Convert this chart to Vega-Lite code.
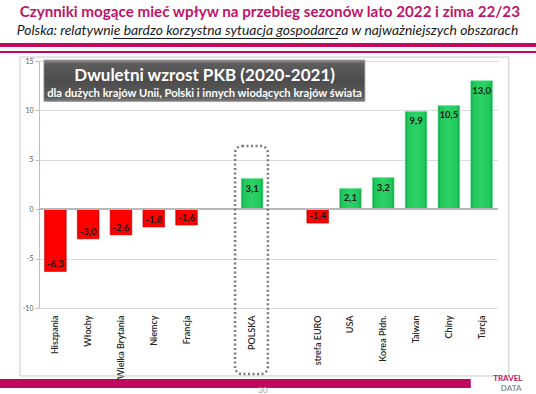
{
  "$schema": "https://vega.github.io/schema/vega-lite/v6.json",
  "width": 459,
  "height": 247,
  "autosize": {"type": "none"},
  "padding": {"left": 39, "top": 61, "right": 38, "bottom": 86},
  "background": "white",
  "config": {
    "view": {"stroke": null},
    "font": "Lato",
    "locale": {"number": {"decimal": ",", "thousands": " ", "grouping": [3], "currency": ["", " zł"], "minus": "-"}}
  },
  "data": {"values": [
    {"country": "Hiszpania", "v": -6.3},
    {"country": "Włochy", "v": -3.0},
    {"country": "Wielka Brytania", "v": -2.6},
    {"country": "Niemcy", "v": -1.8},
    {"country": "Francja", "v": -1.6},
    {"country": "POLSKA", "v": 3.1},
    {"country": "strefa EURO", "v": -1.4},
    {"country": "USA", "v": 2.1},
    {"country": "Korea Płdn.", "v": 3.2},
    {"country": "Taiwan", "v": 9.9},
    {"country": "Chiny", "v": 10.5},
    {"country": "Turcja", "v": 13.0}
  ]},
  "resolve": {"scale": {"x": "independent"}, "axis": {"x": "independent"}},
  "layer": [
    {
      "encoding": {
        "x": {
          "field": "country", "type": "nominal", "sort": null,
          "scale": {"domain": ["Hiszpania", "Włochy", "Wielka Brytania", "Niemcy", "Francja", " ", "POLSKA", "  ", "strefa EURO", "USA", "Korea Płdn.", "Taiwan", "Chiny", "Turcja"], "paddingInner": 0.34, "paddingOuter": 0.17},
          "axis": {"title": null, "labelAngle": -90, "labelFontSize": 9, "labelColor": "#262626", "labelFont": "Lato", "labelFontWeight": 600, "labelPadding": 7, "domain": false, "ticks": false, "grid": false}
        },
        "y": {
          "field": "v", "type": "quantitative",
          "scale": {"domain": [-10, 15], "nice": false, "zero": false},
          "axis": {"title": null, "values": [-10, -5, 0, 5, 10, 15], "labelFontSize": 7, "labelColor": "#595959", "tickSize": 4, "tickColor": "#bfbfbf", "domainColor": "#bfbfbf", "gridColor": "#dcdcdc", "labelPadding": 2}
        }
      },
      "layer": [
        {
          "mark": {"type": "bar", "strokeWidth": 0.6},
          "encoding": {
            "fill": {
              "condition": {"test": "datum.v < 0", "value": {"gradient": "linear", "x1": 0, "y1": 0, "x2": 1, "y2": 0, "stops": [{"offset": 0, "color": "#e00000"}, {"offset": 0.12, "color": "#ff0000"}, {"offset": 0.88, "color": "#ff0000"}, {"offset": 1, "color": "#e00000"}]}},
              "value": {"gradient": "linear", "x1": 0, "y1": 0, "x2": 1, "y2": 0, "stops": [{"offset": 0, "color": "#0d9e45"}, {"offset": 0.12, "color": "#20c85b"}, {"offset": 0.5, "color": "#2dd266"}, {"offset": 0.88, "color": "#20c85b"}, {"offset": 1, "color": "#0d9e45"}]}
            },
            "stroke": {"condition": {"test": "datum.v < 0", "value": "#c80000"}, "value": "#5ee690"}
          }
        },
        {
          "mark": {"type": "rule", "color": "#b8b8b8", "strokeWidth": 1},
          "encoding": {"y": {"datum": 0}, "x": null}
        },
        {
          "transform": [{"filter": "datum.v >= 0"}],
          "mark": {"type": "text", "baseline": "top", "dy": 5, "fontSize": 9.5, "fontWeight": "bold", "color": "#1a1a1a"},
          "encoding": {"text": {"field": "v", "type": "quantitative", "format": ".1f"}}
        },
        {
          "transform": [{"filter": "datum.v < 0"}],
          "mark": {"type": "text", "baseline": "bottom", "dy": -2, "fontSize": 9.5, "fontWeight": "bold", "color": "#1a1a1a"},
          "encoding": {"text": {"field": "v", "type": "quantitative", "format": ".1f"}}
        }
      ]
    },
    {
      "data": {"values": [{}]},
      "layer": [
        {
          "mark": {"type": "rect", "fill": null, "stroke": "#c8c8c8", "strokeWidth": 1, "clip": false},
          "encoding": {
            "x": {"datum": -1.08, "type": "quantitative", "scale": {"domain": [-0.5, 13.5], "nice": false, "zero": false}, "axis": null},
            "x2": {"datum": 13.83},
            "y": {"datum": 15.4, "type": "quantitative", "scale": {"domain": [-10, 15], "nice": false, "zero": false}},
            "y2": {"datum": -16.88}
          }
        },
        {
          "mark": {"type": "rect", "fill": "#c0085e", "clip": false},
          "encoding": {
            "x": {"datum": -1.7, "type": "quantitative", "scale": {"domain": [-0.5, 13.5], "nice": false, "zero": false}, "axis": null},
            "x2": {"datum": 14.7},
            "y": {"datum": 16.82, "type": "quantitative", "scale": {"domain": [-10, 15], "nice": false, "zero": false}},
            "y2": {"datum": 16.42}
          }
        },
        {
          "mark": {"type": "rect", "fill": "#c0085e", "clip": false},
          "encoding": {
            "x": {"datum": -1.7, "type": "quantitative", "scale": {"domain": [-0.5, 13.5], "nice": false, "zero": false}, "axis": null},
            "x2": {"datum": 14.7},
            "y": {"datum": 16.01, "type": "quantitative", "scale": {"domain": [-10, 15], "nice": false, "zero": false}},
            "y2": {"datum": 15.81}
          }
        },
        {
          "mark": {"type": "rect", "fill": "#c0085e", "clip": false},
          "encoding": {
            "x": {"datum": -1.7, "type": "quantitative", "scale": {"domain": [-0.5, 13.5], "nice": false, "zero": false}, "axis": null},
            "x2": {"datum": 12.67},
            "y": {"datum": -17.19, "type": "quantitative", "scale": {"domain": [-10, 15], "nice": false, "zero": false}},
            "y2": {"datum": -18.1}
          }
        },
        {
          "mark": {"type": "rect", "clip": false, "stroke": "#9a9a9a", "strokeWidth": 0.8},
          "encoding": {
            "fill": {"value": {"gradient": "linear", "x1": 0, "y1": 0, "x2": 0, "y2": 1, "stops": [{"offset": 0, "color": "#8c8c8c"}, {"offset": 0.1, "color": "#5c5c5c"}, {"offset": 0.5, "color": "#4c4c4c"}, {"offset": 0.9, "color": "#5c5c5c"}, {"offset": 1, "color": "#808080"}]}},
            "x": {"datum": -0.35, "type": "quantitative", "scale": {"domain": [-0.5, 13.5], "nice": false, "zero": false}, "axis": null},
            "x2": {"datum": 9.44},
            "y": {"datum": 15.1, "type": "quantitative", "scale": {"domain": [-10, 15], "nice": false, "zero": false}},
            "y2": {"datum": 10.9}
          }
        },
        {
          "mark": {"type": "text", "clip": false, "fontSize": 17, "fontWeight": "bold", "color": "white", "baseline": "middle", "align": "center"},
          "encoding": {
            "text": {"value": "Dwuletni wzrost PKB (2020-2021)"},
            "x": {"datum": 4.55, "type": "quantitative", "scale": {"domain": [-0.5, 13.5], "nice": false, "zero": false}, "axis": null},
            "y": {"datum": 13.5, "type": "quantitative", "scale": {"domain": [-10, 15], "nice": false, "zero": false}}
          }
        },
        {
          "mark": {"type": "text", "clip": false, "fontSize": 11.2, "fontWeight": "bold", "color": "white", "baseline": "middle", "align": "center"},
          "encoding": {
            "text": {"value": "dla dużych krajów Unii, Polski i innych wiodących krajów świata"},
            "x": {"datum": 4.55, "type": "quantitative", "scale": {"domain": [-0.5, 13.5], "nice": false, "zero": false}, "axis": null},
            "y": {"datum": 11.63, "type": "quantitative", "scale": {"domain": [-10, 15], "nice": false, "zero": false}}
          }
        },
        {
          "mark": {"type": "rect", "clip": false, "fill": null, "stroke": "#7a7a7a", "strokeWidth": 2.5, "strokeDash": [2, 2.5], "cornerRadius": 7},
          "encoding": {
            "x": {"datum": 5.48, "type": "quantitative", "scale": {"domain": [-0.5, 13.5], "nice": false, "zero": false}, "axis": null},
            "x2": {"datum": 6.48},
            "y": {"datum": 6.4, "type": "quantitative", "scale": {"domain": [-10, 15], "nice": false, "zero": false}},
            "y2": {"datum": -16.68}
          }
        },
        {
          "mark": {"type": "text", "clip": false, "fontSize": 15.2, "fontWeight": "bold", "color": "#bb1569", "baseline": "middle", "align": "center"},
          "encoding": {
            "text": {"value": "Czynniki mogące mieć wpływ na przebieg sezonów lato 2022 i zima 22/23"},
            "x": {"datum": 6.54, "type": "quantitative", "scale": {"domain": [-0.5, 13.5], "nice": false, "zero": false}, "axis": null},
            "y": {"datum": 19.96, "type": "quantitative", "scale": {"domain": [-10, 15], "nice": false, "zero": false}}
          }
        },
        {
          "mark": {"type": "text", "clip": false, "fontSize": 13.9, "fontStyle": "italic", "color": "#1a1a1a", "baseline": "middle", "align": "center"},
          "encoding": {
            "text": {"value": "Polska: relatywnie bardzo korzystna sytuacja gospodarcza w najważniejszych obszarach"},
            "x": {"datum": 6.47, "type": "quantitative", "scale": {"domain": [-0.5, 13.5], "nice": false, "zero": false}, "axis": null},
            "y": {"datum": 18.04, "type": "quantitative", "scale": {"domain": [-10, 15], "nice": false, "zero": false}}
          }
        },
        {
          "mark": {"type": "rule", "clip": false, "color": "#1a1a1a", "strokeWidth": 1},
          "encoding": {
            "x": {"datum": 1.76, "type": "quantitative", "scale": {"domain": [-0.5, 13.5], "nice": false, "zero": false}, "axis": null},
            "x2": {"datum": 8.62},
            "y": {"datum": 17.28, "type": "quantitative", "scale": {"domain": [-10, 15], "nice": false, "zero": false}}
          }
        },
        {
          "mark": {"type": "text", "clip": false, "fontSize": 8, "color": "#a0a0a0", "baseline": "middle", "align": "center"},
          "encoding": {
            "text": {"value": "30"},
            "x": {"datum": 6.33, "type": "quantitative", "scale": {"domain": [-0.5, 13.5], "nice": false, "zero": false}, "axis": null},
            "y": {"datum": -18.45, "type": "quantitative", "scale": {"domain": [-10, 15], "nice": false, "zero": false}}
          }
        },
        {
          "mark": {"type": "text", "clip": false, "fontSize": 8, "fontWeight": "bold", "color": "#c0136a", "baseline": "middle", "align": "center"},
          "encoding": {
            "text": {"value": "TRAVEL"},
            "x": {"datum": 13.8, "type": "quantitative", "scale": {"domain": [-0.5, 13.5], "nice": false, "zero": false}, "axis": null},
            "y": {"datum": -17.15, "type": "quantitative", "scale": {"domain": [-10, 15], "nice": false, "zero": false}}
          }
        },
        {
          "mark": {"type": "text", "clip": false, "fontSize": 8, "fontWeight": "bold", "color": "#8c8c8c", "baseline": "middle", "align": "center"},
          "encoding": {
            "text": {"value": "DATA"},
            "x": {"datum": 13.9, "type": "quantitative", "scale": {"domain": [-0.5, 13.5], "nice": false, "zero": false}, "axis": null},
            "y": {"datum": -18.15, "type": "quantitative", "scale": {"domain": [-10, 15], "nice": false, "zero": false}}
          }
        }
      ]
    }
  ]
}
